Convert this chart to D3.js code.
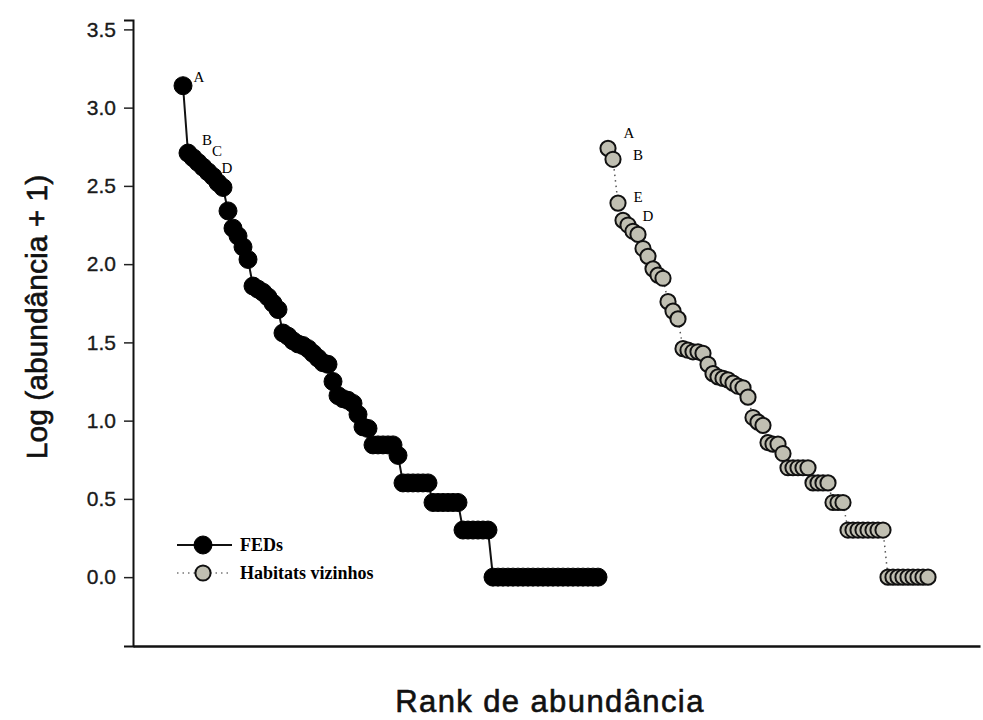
<!DOCTYPE html>
<html>
<head>
<meta charset="utf-8">
<script src="https://cdn.jsdelivr.net/npm/d3@7/dist/d3.min.js"></script>
<style>
  html, body { margin: 0; padding: 0; background: #fff; }
  svg { display: block; }
</style>
</head>
<body>
<div id="chart"></div>
<script>
// Rank-abundance curves: log10(abundance + 1) by species rank
const seriesNames = ["FEDs", "Habitats vizinhos"];

const fedsValues = [
  3.14,
  2.71, 2.68, 2.65, 2.62, 2.59, 2.56, 2.52, 2.49,
  2.34, 2.23, 2.18, 2.11, 2.03,
  1.86, 1.84, 1.82, 1.79, 1.75, 1.71,
  1.56, 1.54, 1.51, 1.49, 1.48, 1.46, 1.43, 1.40, 1.37, 1.36,
  1.25, 1.16, 1.14, 1.13, 1.11, 1.04, 0.96, 0.95,
  0.845, 0.845, 0.845, 0.845, 0.845, 0.778,
  0.602, 0.602, 0.602, 0.602, 0.602, 0.602,
  0.477, 0.477, 0.477, 0.477, 0.477, 0.477,
  0.301, 0.301, 0.301, 0.301, 0.301, 0.301,
  0, 0, 0, 0, 0, 0, 0, 0, 0, 0, 0,
  0, 0, 0, 0, 0, 0, 0, 0, 0, 0, 0
];

const vizinhosValues = [
  2.74, 2.67, 2.39, 2.28, 2.25, 2.21, 2.19, 2.10, 2.05, 1.97, 1.93, 1.91,
  1.76, 1.70, 1.65,
  1.46, 1.45, 1.44, 1.44, 1.43, 1.36, 1.30, 1.28, 1.27, 1.26, 1.24, 1.22, 1.21, 1.15,
  1.02, 0.99, 0.97, 0.86, 0.85, 0.85, 0.79,
  0.699, 0.699, 0.699, 0.699, 0.699,
  0.602, 0.602, 0.602, 0.602,
  0.477, 0.477, 0.477,
  0.301, 0.301, 0.301, 0.301, 0.301, 0.301, 0.301, 0.301,
  0, 0, 0, 0, 0, 0, 0, 0, 0
];

// The second curve continues along the rank axis after a one-rank gap
const vizinhosRankStart = fedsValues.length + 2;

const yTickValues = [0, 0.5, 1.0, 1.5, 2.0, 2.5, 3.0, 3.5];

// Species letters marked beside the leading points of each curve
const fedsLabels = [
  { index: 0, text: "A" },
  { index: 1, text: "B" },
  { index: 2, text: "C" },
  { index: 4, text: "D" }
];
const vizinhosLabels = [
  { index: 0, text: "A" },
  { index: 1, text: "B" },
  { index: 2, text: "E" },
  { index: 4, text: "D" }
];

const width = 983, height = 720;
const margin = { left: 133, right: 3, top: 20, bottom: 74 };

const svg = d3.select("#chart").append("svg")
  .attr("width", width).attr("height", height);

const fedsData = fedsValues.map((v, i) => ({ rank: i + 1, value: v }));
const vizData = vizinhosValues.map((v, i) => ({ rank: vizinhosRankStart + i, value: v }));
const lastRank = vizData[vizData.length - 1].rank;

const x = d3.scaleLinear().domain([1, lastRank]).range([183, 928]);
const y = d3.scaleLinear().domain([-0.44, 3.56]).range([height - margin.bottom, margin.top]);

// Axes
const yAxis = d3.axisLeft(y).tickValues(yTickValues).tickFormat(d3.format(".1f"))
  .tickSize(9).tickPadding(8);
const gy = svg.append("g").attr("transform", `translate(${margin.left},0)`).call(yAxis);
gy.select(".domain").attr("stroke", "#111").attr("stroke-width", 2);
gy.selectAll(".tick line").attr("stroke", "#222").attr("stroke-width", 1.5);
gy.selectAll(".tick text")
  .attr("font-family", "Liberation Sans, Arial, sans-serif")
  .attr("font-size", 21).attr("fill", "#1a1a1a")
  .attr("stroke", "#1a1a1a").attr("stroke-width", 0.35);

const gx = svg.append("g").attr("transform", `translate(0,${height - margin.bottom})`);
gx.call(d3.axisBottom(d3.scaleLinear().domain([0, 1]).range([margin.left, width - margin.right]))
  .tickValues([]).tickSizeOuter(0));
gx.select(".domain").attr("stroke", "#111").attr("stroke-width", 2.5);

// Axis titles
svg.append("text")
  .attr("x", 550).attr("y", 712)
  .attr("text-anchor", "middle")
  .attr("font-family", "Liberation Sans, Arial, sans-serif")
  .attr("font-size", 31)
  .attr("letter-spacing", 1.4)
  .attr("fill", "#111")
  .attr("stroke", "#111").attr("stroke-width", 0.6)
  .text("Rank de abundância");

svg.append("text")
  .attr("transform", `translate(47,317) rotate(-90)`)
  .attr("text-anchor", "middle")
  .attr("font-family", "Liberation Sans, Arial, sans-serif")
  .attr("font-size", 30)
  .attr("fill", "#111")
  .attr("stroke", "#111").attr("stroke-width", 0.6)
  .text("Log (abundância + 1)");

const line = d3.line().x(d => x(d.rank)).y(d => y(d.value));

// FEDs: solid connecting line with black markers
svg.append("path").datum(fedsData)
  .attr("d", line).attr("fill", "none")
  .attr("stroke", "#111").attr("stroke-width", 2);

svg.append("g").selectAll("circle").data(fedsData).join("circle")
  .attr("cx", d => x(d.rank)).attr("cy", d => y(d.value))
  .attr("r", 9).attr("fill", "#000").attr("stroke", "#000").attr("stroke-width", 1);

// Habitats vizinhos: dotted line with grey markers
svg.append("path").datum(vizData)
  .attr("d", line).attr("fill", "none")
  .attr("stroke", "#555").attr("stroke-width", 1.5).attr("stroke-dasharray", "1.5,4");

svg.append("g").selectAll("circle").data(vizData).join("circle")
  .attr("cx", d => x(d.rank)).attr("cy", d => y(d.value))
  .attr("r", 7.6).attr("fill", "#c0bfb2").attr("stroke", "#111").attr("stroke-width", 2);

// Species letters
const fedsLabelOffsets = { A: [16, -9], B: [19, -13], C: [24, -7], D: [24, 1] };
const vizLabelOffsets = { A: [21, -15], B: [25, -4], E: [20, -6], D: [20, -9] };

function drawLabels(labels, data, offsets) {
  svg.append("g").selectAll("text").data(labels).join("text")
    .attr("x", d => x(data[d.index].rank) + offsets[d.text][0])
    .attr("y", d => y(data[d.index].value) + offsets[d.text][1])
    .attr("text-anchor", "middle")
    .attr("dominant-baseline", "central")
    .attr("font-family", "Liberation Serif, Times New Roman, serif")
    .attr("font-size", 15)
    .attr("fill", "#000")
    .text(d => d.text);
}
drawLabels(fedsLabels, fedsData, fedsLabelOffsets);
drawLabels(vizinhosLabels, vizData, vizLabelOffsets);

// Legend
const legend = svg.append("g").attr("transform", "translate(177,545)");
const legendRows = [
  { name: seriesNames[0], fill: "#000", dash: null, stroke: "#111", lw: 2 },
  { name: seriesNames[1], fill: "#c0bfb2", dash: "1.5,4", stroke: "#777", lw: 1.5 }
];
legendRows.forEach((row, i) => {
  const g = legend.append("g").attr("transform", `translate(0,${i * 28})`);
  g.append("line").attr("x1", 0).attr("x2", 55).attr("y1", 0).attr("y2", 0)
    .attr("stroke", row.stroke).attr("stroke-width", row.lw)
    .attr("stroke-dasharray", row.dash);
  g.append("circle").attr("cx", 26).attr("cy", 0).attr("r", i === 0 ? 9 : 7.6)
    .attr("fill", row.fill).attr("stroke", i === 0 ? "#000" : "#111").attr("stroke-width", i === 0 ? 1 : 2);
  g.append("text").attr("x", 63).attr("y", 0)
    .attr("dominant-baseline", "central")
    .attr("font-family", "Liberation Serif, Times New Roman, serif")
    .attr("font-weight", "bold").attr("font-size", 18)
    .attr("fill", "#000")
    .text(row.name);
});
</script>
</body>
</html>
